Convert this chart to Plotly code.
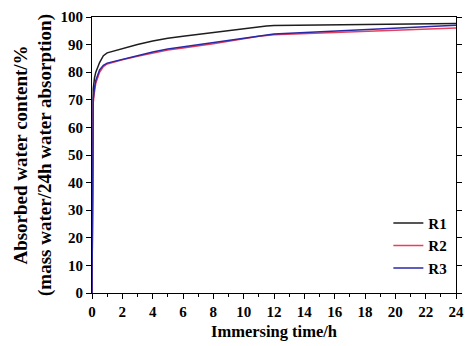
import plotly.graph_objects as go

# Immersion time (h) and absorbed water content (% of 24 h absorption)
time_h = [0, 0.083, 0.167, 0.25, 0.5, 0.75, 1, 1.5, 2, 3, 4, 5, 6, 7, 8, 9, 10, 11, 11.5, 12, 24]
r1 = [0, 74, 78, 80, 83.5, 86, 87, 87.8, 88.5, 90, 91.3, 92.3, 93, 93.7, 94.4, 95.1, 95.8, 96.4, 96.7, 96.9, 97.6]
r2 = [0, 69, 73, 76, 80, 82, 83, 83.8, 84.5, 85.8, 87, 88, 88.8, 89.5, 90.3, 91.2, 92.2, 93, 93.3, 93.6, 96.0]
r3 = [0, 70.5, 74.5, 77, 80.8, 82.5, 83.3, 84, 84.7, 86, 87.3, 88.4, 89.2, 89.8, 90.6, 91.5, 92.4, 93.2, 93.5, 93.8, 97.0]

series = [("R1", r1, "#1e1e1e"), ("R2", r2, "#e8405a"), ("R3", r3, "#2828a8")]

x_ticks = list(range(0, 25, 2))
y_ticks = list(range(0, 101, 10))

font_family = "Liberation Serif, Times New Roman, serif"

fig = go.Figure()
for name, values, color in series:
    fig.add_trace(go.Scatter(
        x=time_h, y=values, mode="lines", name=f"<b>{name}</b>",
        line=dict(color=color, width=1.5),
    ))

fig.update_layout(
    width=472, height=346,
    margin=dict(l=92, r=8, t=17, b=52),
    paper_bgcolor="white", plot_bgcolor="white",
    font=dict(family=font_family, size=15, color="black"),
    showlegend=True,
    legend=dict(
        x=0.99, xanchor="right", y=0.03, yanchor="bottom",
        bgcolor="rgba(0,0,0,0)", borderwidth=0,
        font=dict(family=font_family, size=15, color="black"),
        tracegroupgap=0, itemwidth=30,
    ),
    xaxis=dict(
        range=[0, 24], tickvals=x_ticks, ticktext=[f"<b>{v}</b>" for v in x_ticks],
        tickfont=dict(family=font_family, size=15),
        showline=True, linecolor="black", linewidth=1.2, mirror=True,
        ticks="outside", ticklen=5, tickwidth=1.2, tickcolor="black",
        minor=dict(dtick=1, ticks="outside", ticklen=3, tickwidth=1, tickcolor="black"),
        showgrid=False, zeroline=False,
        title=dict(text="<b>Immersing time/h</b>", font=dict(family=font_family, size=16.5), standoff=6),
    ),
    yaxis=dict(
        range=[0, 100], tickvals=y_ticks, ticktext=[f"<b>{v}</b>" for v in y_ticks],
        tickfont=dict(family=font_family, size=15),
        showline=True, linecolor="black", linewidth=1.2, mirror="ticks",
        ticks="outside", ticklen=5, tickwidth=1.2, tickcolor="black",
        showgrid=False, zeroline=False,
        title=dict(text="<b>Absorbed water content/%</b><br><b>(mass water/24h water absorption)</b>",
                   font=dict(family=font_family, size=19), standoff=3),
    ),
)

fig.write_html("out.html")
